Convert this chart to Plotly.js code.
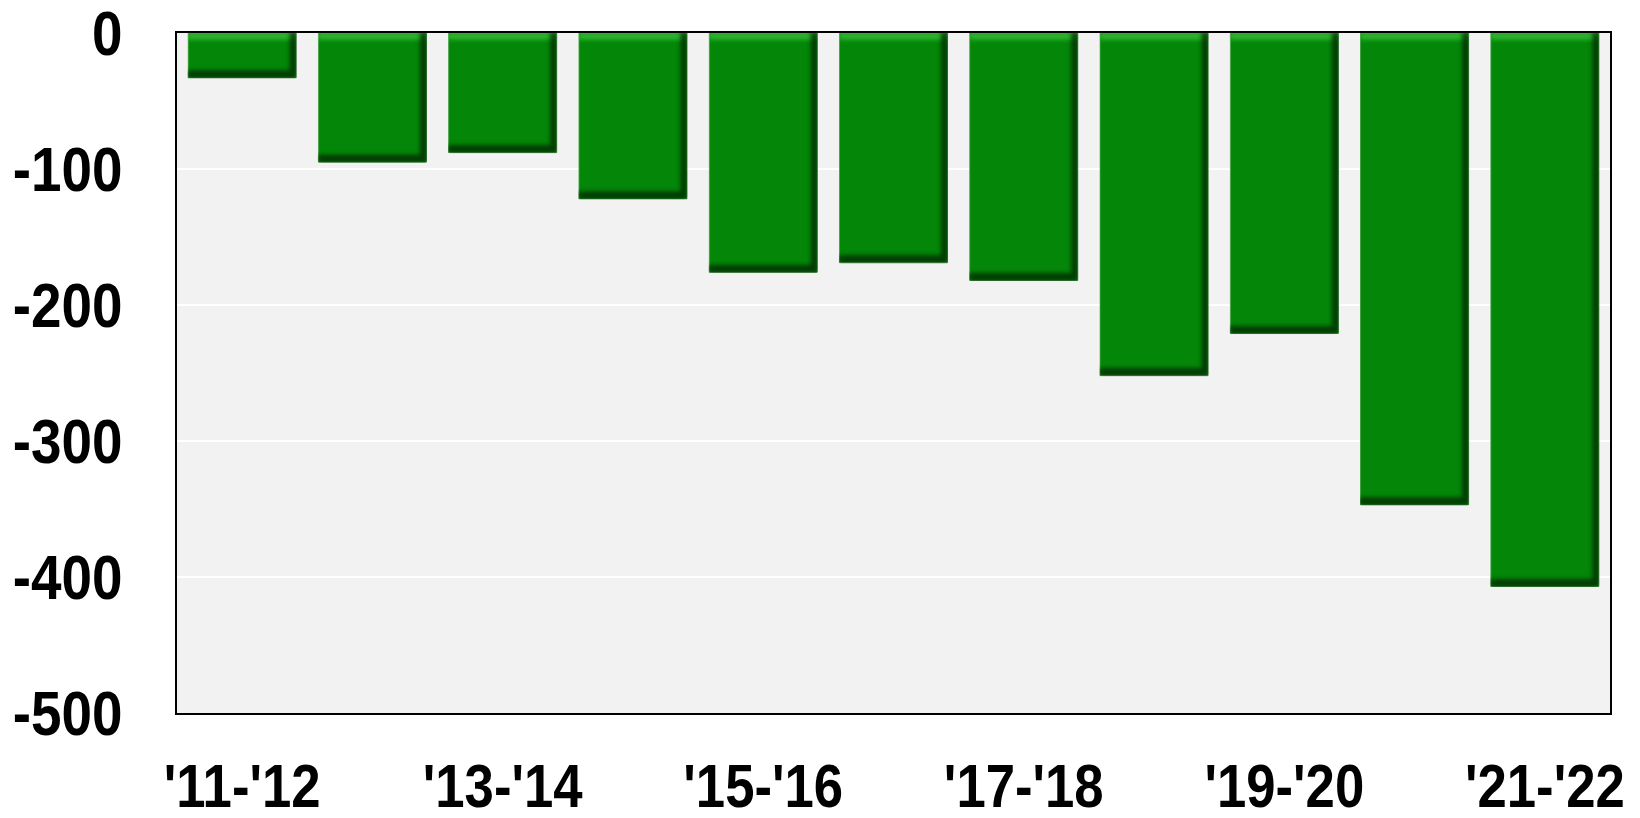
<!DOCTYPE html>
<html>
<head>
<meta charset="utf-8">
<script src="https://cdn.plot.ly/plotly-3.0.1.min.js"></script>
<style>html,body{margin:0;padding:0;background:#fff;}#chart{width:1640px;height:818px;}</style>
</head>
<body>
<svg width="0" height="0" style="position:absolute">
  <defs>
    <filter id="bevel" x="-5%" y="-5%" width="110%" height="110%" color-interpolation-filters="sRGB">
      <feOffset in="SourceAlpha" dx="-7" dy="-8" result="offBR"/>
      <feComposite in="SourceAlpha" in2="offBR" operator="out" result="edgeBR"/>
      <feGaussianBlur in="edgeBR" stdDeviation="2" result="edgeBRb"/>
      <feFlood flood-color="#022e03" flood-opacity="0.85"/>
      <feComposite in2="edgeBRb" operator="in" result="dark"/>
      <feOffset in="SourceAlpha" dx="0" dy="7" result="offT"/>
      <feComposite in="SourceAlpha" in2="offT" operator="out" result="edgeT"/>
      <feGaussianBlur in="edgeT" stdDeviation="2" result="edgeTb"/>
      <feFlood flood-color="#3fc63f" flood-opacity="0.75"/>
      <feComposite in2="edgeTb" operator="in" result="light"/>
      <feMerge result="merged"><feMergeNode in="SourceGraphic"/><feMergeNode in="light"/><feMergeNode in="dark"/></feMerge>
      <feComposite in="merged" in2="SourceAlpha" operator="in"/>
    </filter>
  </defs>
</svg>
<div id="chart"></div>
<script>
const seasons = ["'11-'12","'12-'13","'13-'14","'14-'15","'15-'16","'16-'17","'17-'18","'18-'19","'19-'20","'20-'21","'21-'22"];
const values = [-33, -95, -88, -122, -176, -169, -182, -252, -221, -347, -407];
const labeledTicks = ["'11-'12","'13-'14","'15-'16","'17-'18","'19-'20","'21-'22"];
const yTicks = [0, -100, -200, -300, -400, -500];
const yTickText = ["0", "-100", "-200", "-300", "-400", "-500"];

const fontFam = "'Liberation Sans', Arial, sans-serif";
const squeezeX = 0.85;
const squeezeY = 0.87;

Plotly.newPlot('chart', [{
  type: 'bar',
  x: seasons,
  y: values,
  marker: {color: 'rgb(4,135,8)', line: {color: 'rgb(70,160,70)', width: 1}},
  hoverinfo: 'x+y'
}], {
  width: 1640, height: 818,
  margin: {l: 177, r: 30, t: 33, b: 105},
  paper_bgcolor: '#ffffff',
  plot_bgcolor: '#f2f2f2',
  bargap: 0.17,
  showlegend: false,
  font: {family: fontFam, color: '#000', weight: 'bold'},
  xaxis: {
    type: 'category',
    tickmode: 'array', tickvals: labeledTicks, ticktext: labeledTicks,
    showline: true, linecolor: '#000', linewidth: 2, mirror: true,
    showgrid: false, ticks: '',
    ticklabelstandoff: 18,
    ticklabeloverflow: 'allow',
    tickfont: {size: 62, family: fontFam, weight: 'bold', color: '#000'}
  },
  yaxis: {
    range: [-500, 0],
    tickmode: 'array', tickvals: yTicks, ticktext: yTickText,
    showline: true, linecolor: '#000', linewidth: 2, mirror: true,
    showgrid: true, gridcolor: '#ffffff', gridwidth: 1.5,
    zeroline: false, ticks: '',
    ticklabelstandoff: 40,
    ticklabeloverflow: 'allow',
    tickfont: {size: 63, family: fontFam, weight: 'bold', color: '#000'}
  }
}, {displayModeBar: false, staticPlot: true}).then(function (gd) {
  function squeeze(sel, k) {
    gd.querySelectorAll(sel).forEach(function (t) {
      const x = parseFloat(t.getAttribute('x')) || 0;
      const prev = t.getAttribute('transform') || '';
      t.setAttribute('transform', prev + ' translate(' + x + ',0) scale(' + k + ',1) translate(' + (-x) + ',0)');
    });
  }
  squeeze('.xtick text', squeezeX);
  squeeze('.ytick text', squeezeY);
  gd.querySelectorAll('.barlayer .point path').forEach(function (p) {
    p.setAttribute('filter', 'url(#bevel)');
  });
});
</script>
</body>
</html>
